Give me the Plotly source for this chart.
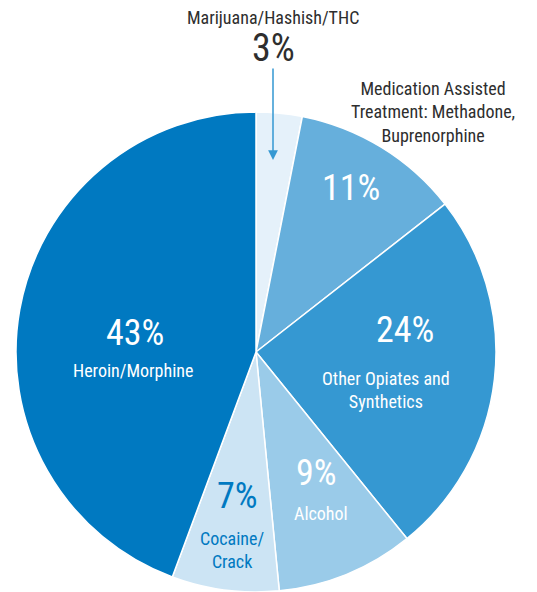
import plotly.graph_objects as go

# slice order: clockwise from 12 o'clock
labels = ["Marijuana/Hashish/THC", "Medication Assisted Treatment: Methadone, Buprenorphine",
          "Other Opiates and Synthetics", "Alcohol", "Cocaine/Crack", "Heroin/Morphine"]
values = [3, 11, 24, 9, 7, 43]
colors = ["#e5f1fa", "#66afdc", "#3598d2", "#9acbe9", "#cce4f4", "#0079c1"]

W, H = 537, 592
OFF = 8  # page body margin shifts the plot div
FONT = "Roboto Condensed, Liberation Sans Narrow, Roboto, sans-serif"

fig = go.Figure(go.Pie(
    labels=labels, values=values, sort=False, direction="clockwise", rotation=0,
    marker=dict(colors=colors, line=dict(color="white", width=1.5)),
    textinfo="none", hoverinfo="label+percent", showlegend=False,
    domain=dict(x=[(16 - OFF) / W, (496 - OFF) / W], y=[(600 - 592) / H, (600 - 112) / H]),
))

def px(x, y):
    return (x - OFF) / W, 1 - (y - OFF) / H

def note(x, y, text, size, color):
    xx, yy = px(x, y)
    fig.add_annotation(x=xx, y=yy, xref="paper", yref="paper", text=text, showarrow=False,
                       xanchor="center", yanchor="middle",
                       font=dict(family=FONT, size=size, color=color), align="center")

big, small = 36, 18
dark = "#2e2e2e"
# label text placement (pixel centres on the page)
note(273, 18, labels[0], small, dark)
note(273, 48, f"{values[0]}%", 38, dark)
note(433, 112, "Medication Assisted<br>Treatment: Methadone,<br>Buprenorphine", small, dark)
note(351, 188, f"{values[1]}%", big, "white")
note(405, 330, f"{values[2]}%", big, "white")
note(386, 390, "Other Opiates and<br>Synthetics", small, "white")
note(316, 473, f"{values[3]}%", big, "white")
note(321, 513, labels[3], small, "white")
note(237, 496, f"{values[4]}%", big, "#0079c1")
note(232, 550, "Cocaine/<br>Crack", small, "#0079c1")
note(135, 333, f"{values[5]}%", big, "white")
note(133, 370, labels[5], small, "white")

# arrow pointing into the small slice
ax, ay = px(273, 160)
fig.add_annotation(x=ax, y=ay, xref="paper", yref="paper", text="", showarrow=True,
                   ax=0, ay=-93, arrowhead=2, arrowsize=1.3, arrowwidth=1.5, arrowcolor="#3598d2")

fig.update_layout(width=W, height=H, margin=dict(l=0, r=0, t=0, b=0),
                  paper_bgcolor="white", plot_bgcolor="white")
fig.write_html("out.html")
